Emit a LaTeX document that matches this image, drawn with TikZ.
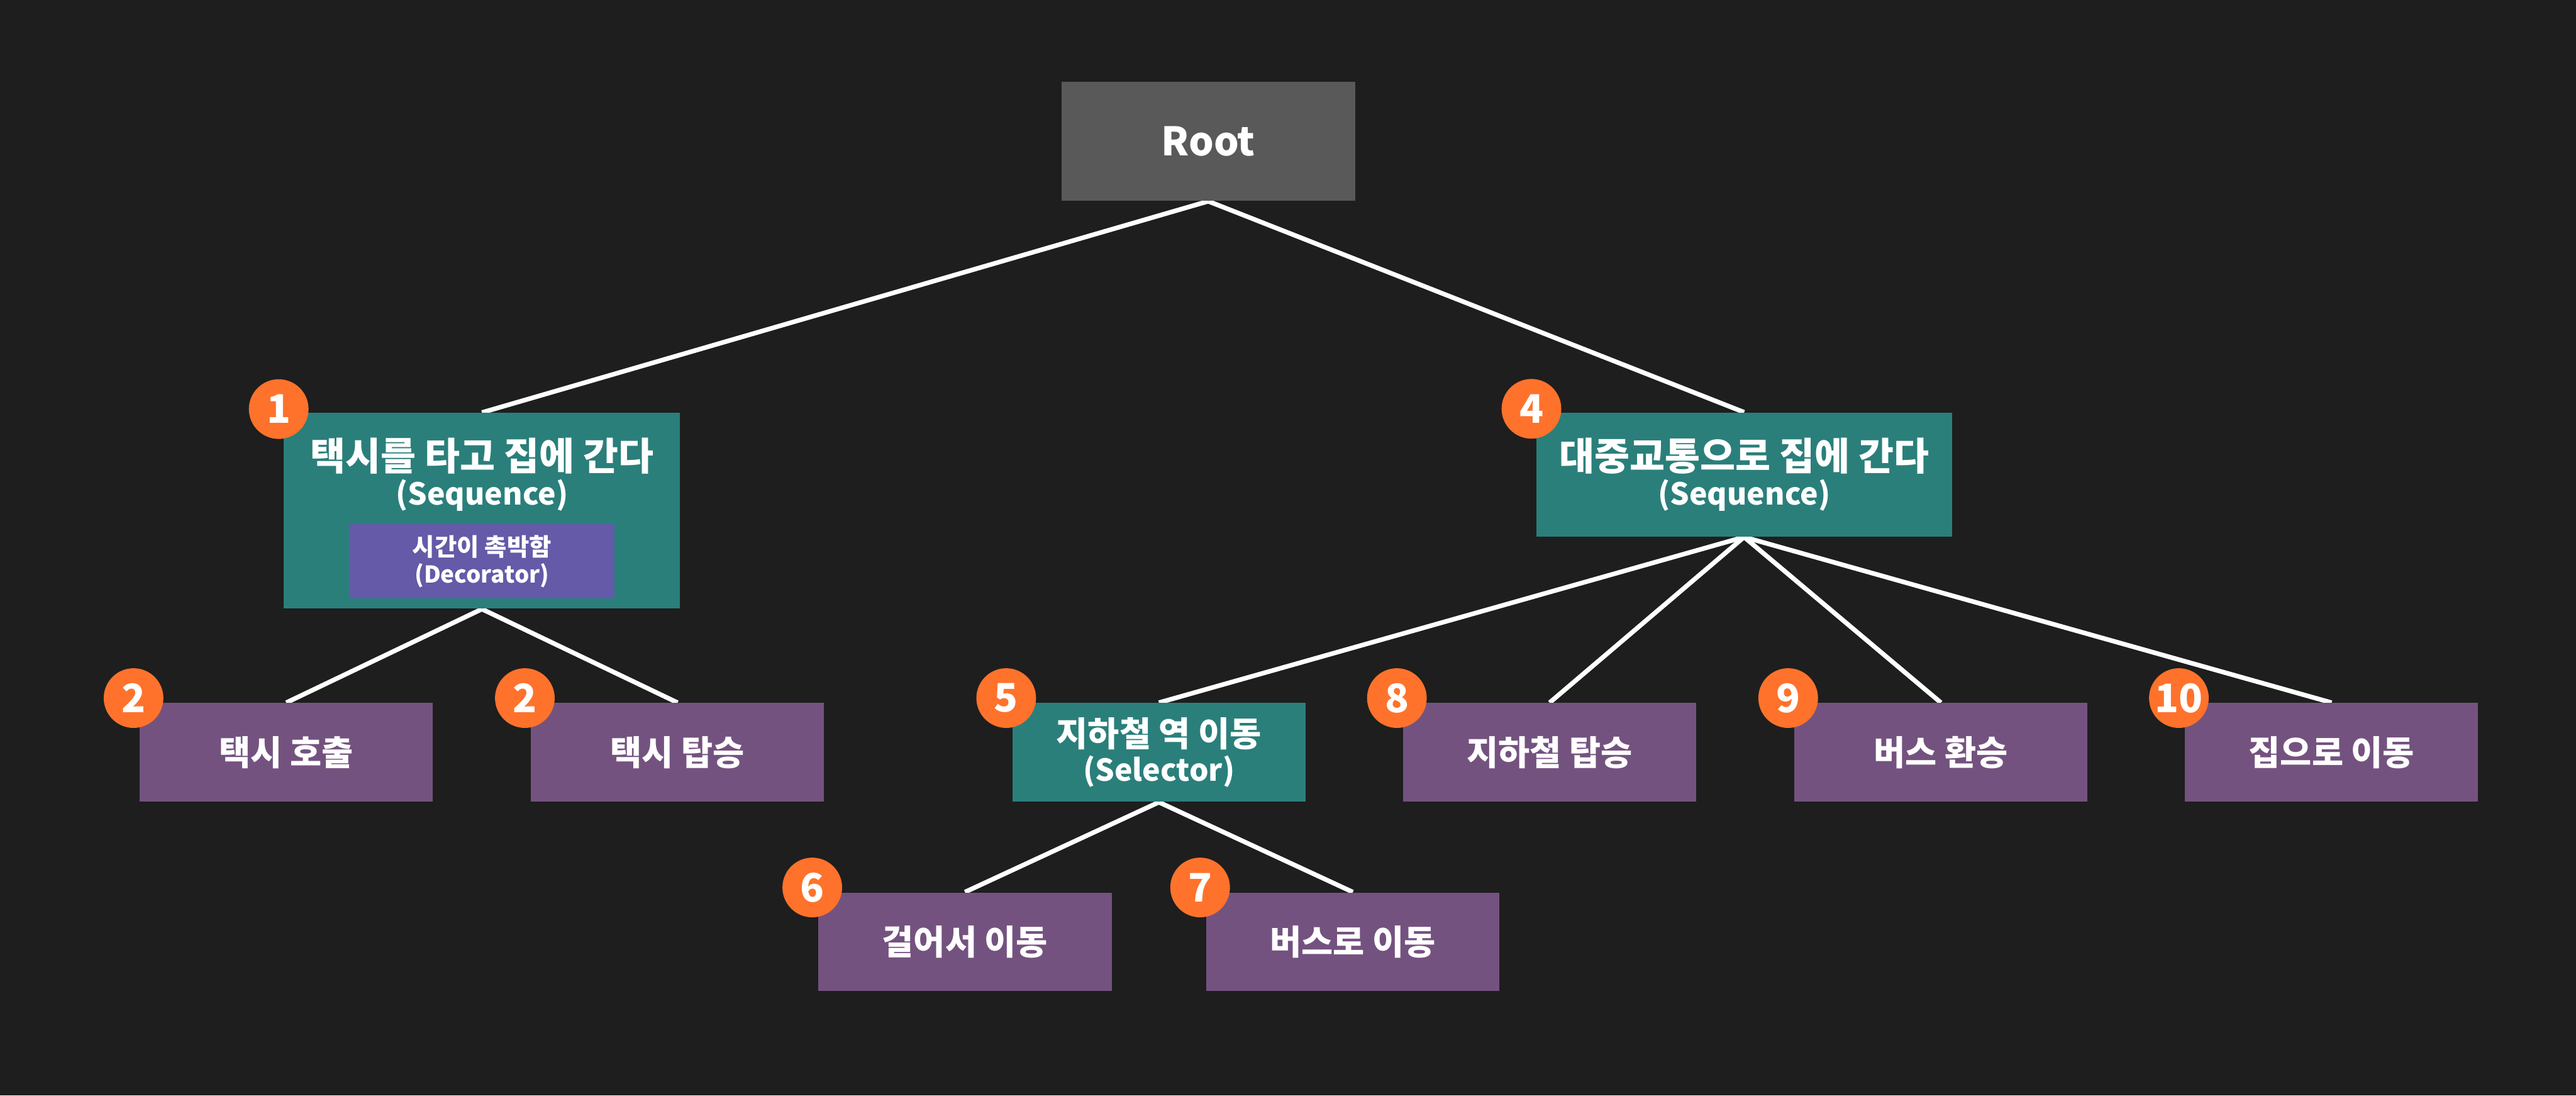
\documentclass[tikz,border=0pt]{standalone}
\usepackage{fontspec}
\setmainfont{Noto Sans CJK KR}
\usepackage{tikz}
\usepackage{xcolor}
\usetikzlibrary{calc,positioning,backgrounds}

\definecolor{bgdark}{HTML}{1E1E1E}
\definecolor{rootgray}{HTML}{595959}
\definecolor{seqteal}{HTML}{2A7F7B}
\definecolor{leafpurple}{HTML}{74527F}
\definecolor{decoviolet}{HTML}{645AA8}
\definecolor{badgeorange}{HTML}{FF722B}

\begin{document}
\begin{tikzpicture}[
          box/.style={minimum width=5.11cm, minimum height=1.72cm, inner sep=0pt, align=center, text=white, font=\bfseries\fontsize{17}{17}\selectfont},
          rootbox/.style={box, fill=rootgray, minimum width=5.12cm, minimum height=2.08cm, font=\bfseries\fontsize{19.5}{20}\selectfont},
          seqbox/.style={box, fill=seqteal, font=\bfseries\fontsize{15}{17}\selectfont},
          leaf/.style={box, fill=leafpurple},
          decobox/.style={box, fill=decoviolet, minimum width=4.63cm, minimum height=1.30cm, font=\bfseries\fontsize{11.5}{13.5}\selectfont},
          titletext/.style={align=center, inner sep=0pt, text=white, font=\bfseries\fontsize{15}{17}\selectfont},
          badge/.style={circle, fill=badgeorange, minimum size=1.04cm, inner sep=0pt, text=white, font=\bfseries\fontsize{19.5}{19.5}\selectfont},
          link/.style={draw=white, line width=0.08cm}
      ]
        \begin{scope}[on background layer]
          \fill[bgdark] (0,0) rectangle (44.90,19.09);
        \end{scope}

        \node[rootbox] (root) at (21.06,16.63) {Root};

        \node[seqbox, minimum width=6.91cm, minimum height=3.41cm] (taxi) at (8.40,10.19) {};
        \node[titletext] (taxititle) at (8.40,10.82) {{\fontsize{19}{17}\selectfont 택시를 타고 집에 간다}\\(Sequence)};
        \node[decobox] (hurry) at (8.40,9.31) {{\fontsize{12}{13.5}\selectfont 시간이 촉박함}\\(Decorator)};
        \node[seqbox, minimum width=7.24cm, minimum height=2.16cm] (transit) at (30.40,10.82) {{\fontsize{19}{17}\selectfont 대중교통으로 집에 간다}\\(Sequence)};

        \node[leaf] (call) at (4.99,5.98) {택시 호출};
        \node[leaf] (board) at (11.81,5.98) {택시 탑승};
        \node[seqbox] (station) at (20.20,5.98) {{\fontsize{17}{17}\selectfont 지하철 역 이동}\\(Selector)};
        \node[leaf] (subway) at (27.01,5.98) {지하철 탑승};
        \node[leaf] (transfer) at (33.83,5.98) {버스 환승};
        \node[leaf] (home) at (40.64,5.98) {집으로 이동};

        \node[leaf] (walk) at (16.82,2.68) {걸어서 이동};
        \node[leaf] (bus) at (23.58,2.68) {버스로 이동};

        \node[badge] (n1) at ($(taxi.north west)+(-0.08,0.06)$) {1};
        \node[badge] (n2a) at ($(call.north west)+(-0.1,0.08)$) {2};
        \node[badge] (n2b) at ($(board.north west)+(-0.1,0.08)$) {2};
        \node[badge] (n4) at ($(transit.north west)+(-0.08,0.06)$) {4};
        \node[badge] (n5) at ($(station.north west)+(-0.1,0.08)$) {5};
        \node[badge] (n6) at ($(walk.north west)+(-0.1,0.08)$) {6};
        \node[badge] (n7) at ($(bus.north west)+(-0.1,0.08)$) {7};
        \node[badge] (n8) at ($(subway.north west)+(-0.1,0.08)$) {8};
        \node[badge] (n9) at ($(transfer.north west)+(-0.1,0.08)$) {9};
        \node[badge] (n10) at ($(home.north west)+(-0.1,0.08)$) {10};

        \begin{scope}[on background layer]
          \draw[link] (root.south) -- (taxi.north);
          \draw[link] (root.south) -- (transit.north);
          \draw[link] (taxi.south) -- (call.north);
          \draw[link] (taxi.south) -- (board.north);
          \foreach \kid in {station,subway,transfer,home}
            \draw[link] (transit.south) -- (\kid.north);
          \draw[link] (station.south) -- (walk.north);
          \draw[link] (station.south) -- (bus.north);
        \end{scope}
      \end{tikzpicture}
\end{document}
